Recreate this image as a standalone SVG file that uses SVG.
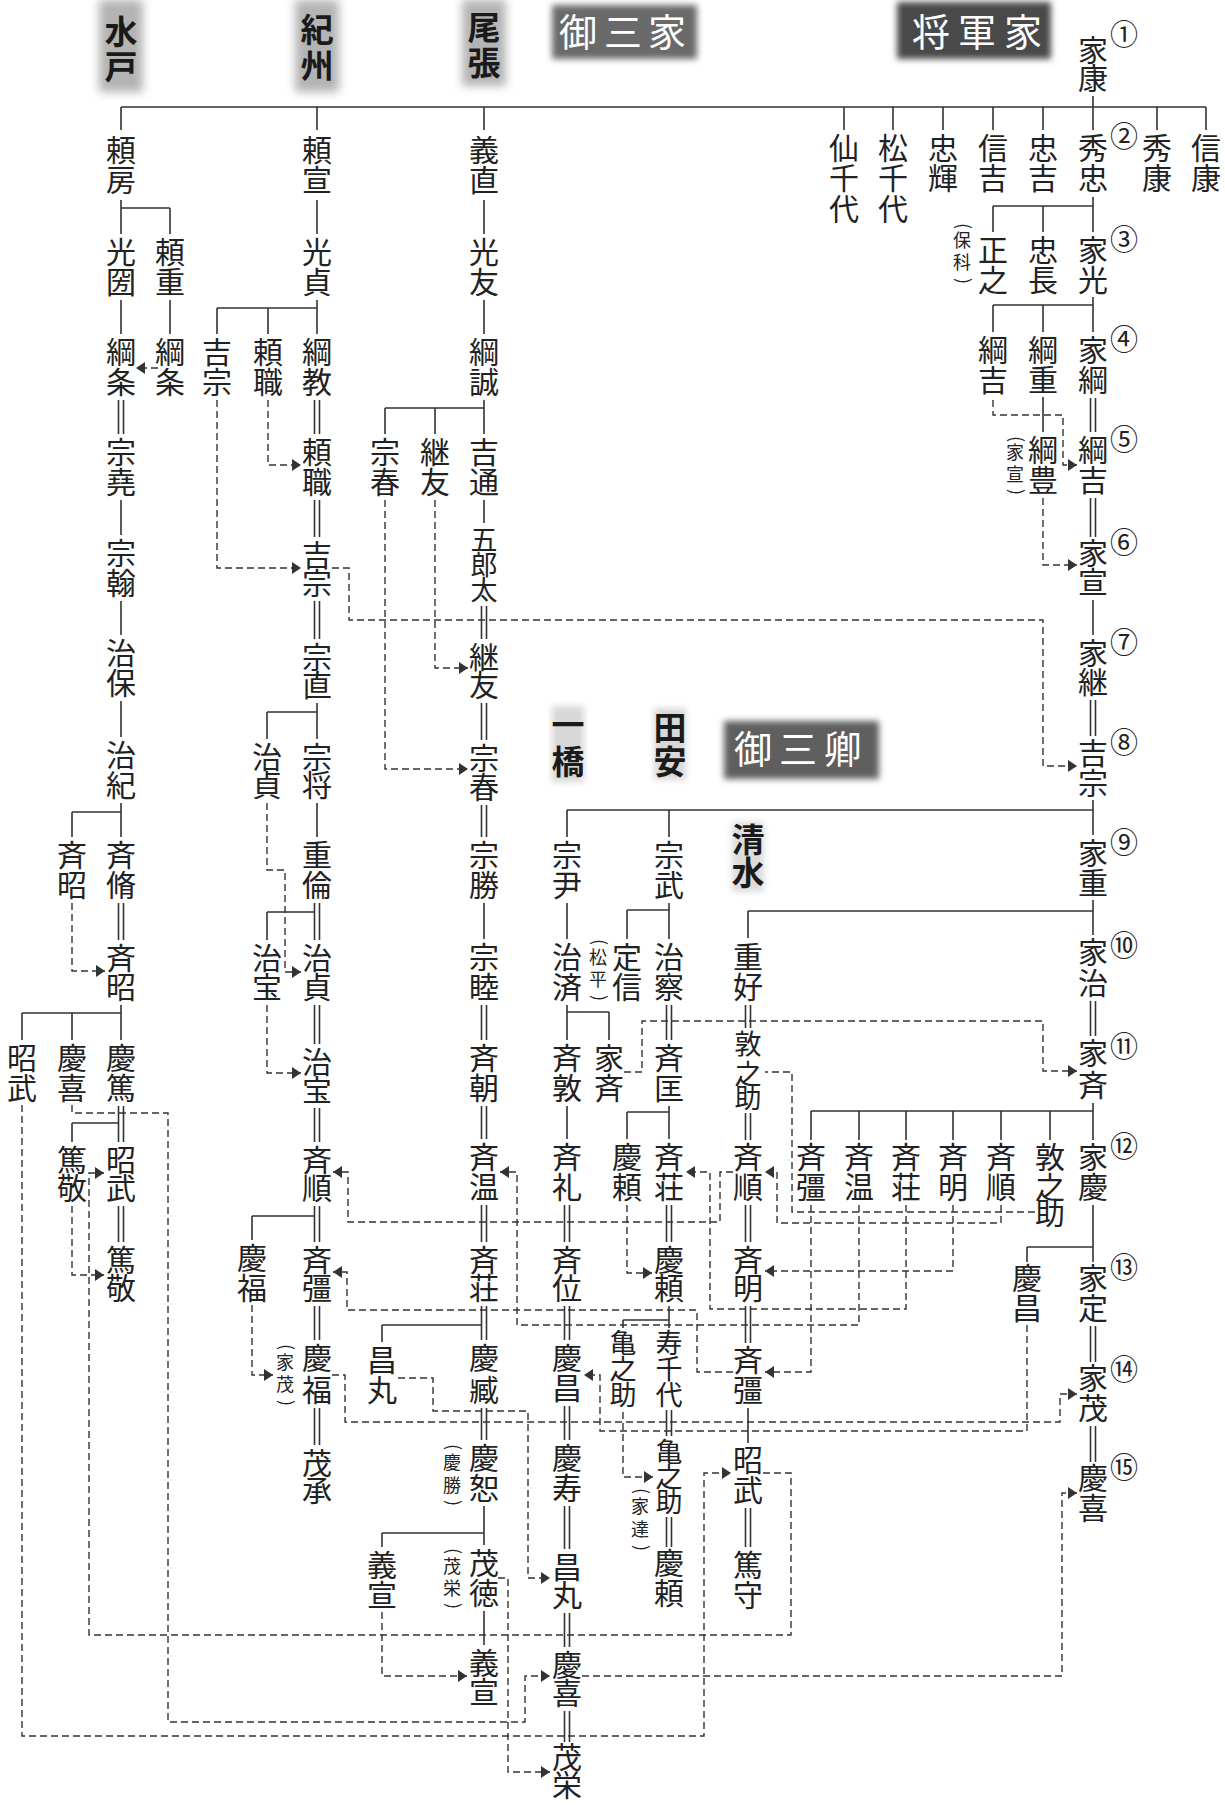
<svg xmlns="http://www.w3.org/2000/svg" width="1225" height="1805" viewBox="0 0 1225 1805">
<defs>
<style>
text{font-family:"Noto Sans CJK JP","Noto Sans CJK SC",sans-serif;text-anchor:middle;fill:#222}
.n{font-size:30px}
.n3{font-size:27px}
.sm{font-size:18px}
.c{font-size:28px}
.hd{font-size:33px;font-weight:700;fill:#1a1a1a}
.wh{font-size:38px;fill:#fff;font-weight:400}
.s{stroke:#333;stroke-width:1.6;fill:none}
.d{stroke:#333;stroke-width:1.4;fill:none;stroke-dasharray:7 4}
.a{marker-end:url(#arr)}
</style>
<marker id="arr" markerUnits="userSpaceOnUse" markerWidth="10" markerHeight="12" refX="9" refY="6" orient="auto"><path d="M0,0 L9,6 L0,12 Z" fill="#333"/></marker>
<filter id="bl" x="-40%" y="-40%" width="180%" height="180%"><feGaussianBlur stdDeviation="5"/></filter>
<filter id="bl2" x="-40%" y="-40%" width="180%" height="180%"><feGaussianBlur stdDeviation="3"/></filter>
</defs>
<rect width="1225" height="1805" fill="#fff"/>

<g id="headers">
<g id="hd-mito"><rect x="99" y="0" width="44" height="92" fill="#b4b4b4" filter="url(#bl)"/><text class="hd" x="121 121" y="44 79">水戸</text></g>
<g id="hd-kishu"><rect x="295" y="0" width="44" height="92" fill="#b4b4b4" filter="url(#bl)"/><text class="hd" x="317 317" y="42 78">紀州</text></g>
<g id="hd-owari"><rect x="462" y="0" width="44" height="86" fill="#b4b4b4" filter="url(#bl)"/><text class="hd" x="484 484" y="40 75">尾張</text></g>
<g id="hd-gosanke"><rect x="552" y="5" width="145" height="54" fill="#6a6a6a" filter="url(#bl2)"/><text class="wh" x="578 623 667" y="46 46 46">御三家</text></g>
<g id="hd-shogun"><rect x="897" y="2" width="154" height="57" fill="#4a4a4a" filter="url(#bl2)"/><text class="wh" x="931 977 1023" y="46 46 46">将軍家</text></g>
<g id="hd-gosankyo"><rect x="724" y="721" width="155" height="58" fill="#5e5e5e" filter="url(#bl2)"/><text class="wh" x="753 798 843" y="763 763 763">御三卿</text></g>
<g id="hd-hitotsubashi"><rect x="552" y="706" width="32" height="76" fill="#d8d8d8" filter="url(#bl2)"/><text class="hd" x="568 568" y="737 774">一橋</text></g>
<g id="hd-tayasu"><rect x="654" y="708" width="32" height="72" fill="#d8d8d8" filter="url(#bl2)"/><text class="hd" x="670 670" y="740 774">田安</text></g>
<g id="hd-shimizu"><rect x="732" y="822" width="32" height="70" fill="#dcdcdc" filter="url(#bl2)"/><text class="hd" x="748 748" y="852 885">清水</text></g>
</g>

<g id="connectors">
<path class="s" d="M121,107 H1206 M121,107 V130 M317,107 V130 M484,107 V130 M844,107 V130 M893,107 V130 M943,107 V130 M993,107 V130 M1043,107 V130 M1157,107 V130 M1206,107 V130 M1093,96 V130"/>
<path class="s" d="M1093,197 V232 M993,206 H1093 M993,206 V232 M1043,206 V232 M1093,297 V332 M993,305 H1093 M993,305 V332 M1043,305 V332 M1043,397 V432 M1093,600 V635 M1093,800 V835 M567,810 H1093 M567,810 V837 M669,810 V837 M1093,900 V935 M748,911 H1093 M748,911 V938 M1093,1103 V1140 M811,1111 H1093 M811,1111 V1140 M859,1111 V1140 M906,1111 V1140 M953,1111 V1140 M1001,1111 V1140 M1050,1111 V1140 M1093,1205 V1262 M1027,1247 H1093 M1027,1247 V1262"/>
<path class="s" d="M1090.5,398 V432 M1095.5,398 V432 M1090.5,498 V537 M1095.5,498 V537 M1090.5,700 V736 M1095.5,700 V736 M1090.5,1001 V1036 M1095.5,1001 V1036 M1090.5,1326 V1362 M1095.5,1326 V1362 M1090.5,1426 V1462 M1095.5,1426 V1462"/>
<path class="s" d="M121,200 V234 M121,208 H170 M170,208 V234 M121,300 V334 M170,300 V334 M118.5,400 V434 M123.5,400 V434 M121,500 V535 M121,601 V635 M121,701 V737 M121,803 V837 M72,812 H121 M72,812 V837 M118.5,903 V940 M123.5,903 V940 M121,1005 V1040 M22,1013 H121 M22,1013 V1040 M72,1013 V1040 M118.5,1106 V1142 M123.5,1106 V1142 M72,1123 H118.5 M72,1123 V1142 M118.5,1206 V1242 M123.5,1206 V1242"/>
<path class="s" d="M317,200 V234 M317,300 V334 M217,308 H317 M217,308 V334 M268,308 V334 M314.5,400 V434 M319.5,400 V434 M314.5,500 V537 M319.5,500 V537 M314.5,601 V639 M319.5,601 V639 M317,703 V739 M267,712 H317 M267,712 V739 M317,803 V837 M314.5,903 V940 M319.5,903 V940 M267,912 H314.5 M267,912 V940 M314.5,1005 V1044 M319.5,1005 V1044 M314.5,1108 V1142 M319.5,1108 V1142 M314.5,1206 V1242 M319.5,1206 V1242 M252,1216 H314.5 M252,1216 V1240 M314.5,1306 V1340 M319.5,1306 V1340 M314.5,1408 V1445 M319.5,1408 V1445"/>
<path class="s" d="M484,200 V234 M484,300 V334 M484,400 V434 M385,408 H484 M385,408 V434 M435,408 V434 M484,500 V523 M481.5,606 V639 M486.5,606 V639 M481.5,703 V740 M486.5,703 V740 M481.5,805 V837 M486.5,805 V837 M484,903 V939 M481.5,1005 V1040 M486.5,1005 V1040 M481.5,1106 V1139 M486.5,1106 V1139 M481.5,1205 V1242 M486.5,1205 V1242 M481.5,1306 V1340 M486.5,1306 V1340 M382,1325 H481.5 M382,1325 V1342 M481.5,1408 V1440 M486.5,1408 V1440 M484,1506 V1545 M382,1533 H484 M382,1533 V1547 M484,1611 V1645"/>
<path class="s" d="M567,903 V939 M567,1005 V1040 M567,1012 H609 M609,1012 V1040 M567,1106 V1139 M564.5,1205 V1242 M569.5,1205 V1242 M564.5,1306 V1340 M569.5,1306 V1340 M564.5,1406 V1440 M569.5,1406 V1440 M564.5,1506 V1549 M569.5,1506 V1549 M564.5,1613 V1647 M569.5,1613 V1647 M564.5,1711 V1742 M569.5,1711 V1742"/>
<path class="s" d="M669,903 V939 M627,910 H669 M627,910 V939 M666.5,1005 V1040 M671.5,1005 V1040 M669,1106 V1139 M627,1112 H669 M627,1112 V1139 M666.5,1205 V1242 M671.5,1205 V1242 M669,1306 V1328 M623,1320 H669 M623,1320 V1328 M666.5,1410 V1436 M671.5,1410 V1436 M666.5,1517 V1547 M671.5,1517 V1547"/>
<path class="s" d="M745.5,1005 V1028 M750.5,1005 V1028 M745.5,1113 V1140 M750.5,1113 V1140 M745.5,1205 V1242 M750.5,1205 V1242 M745.5,1306 V1343 M750.5,1306 V1343 M748,1408 V1443 M745.5,1508 V1547 M750.5,1508 V1547"/>

<path class="d a" d="M158,368 H136"/>
<path class="d a" d="M268,400 V465 H301"/>
<path class="d a" d="M217,400 V568 H301"/>
<path class="d a" d="M332,568 H349 V620 H1043 V766 H1077"/>
<path class="d a" d="M993,400 V415 H1063 V465 H1077"/>
<path class="d a" d="M1043,498 V565 H1077"/>
<path class="d a" d="M435,500 V668 H468"/>
<path class="d a" d="M385,500 V769 H468"/>
<path class="d a" d="M72,903 V971 H105"/>
<path class="d a" d="M267,803 V870 H285 V972 H301"/>
<path class="d a" d="M267,1005 V1073 H301"/>
<path class="d a" d="M624,1072 H642 V1021 H1043 V1071 H1077"/>
<path class="d a" d="M1001,1205 V1223 H777 V1172 H765"/>
<path class="d a" d="M733,1172 H720 V1222 H348 V1172 H333"/>
<path class="d a" d="M811,1205 V1372 H765"/>
<path class="d a" d="M733,1372 H697 V1310 H347 V1272 H333"/>
<path class="d a" d="M859,1205 V1325 H517 V1172 H500"/>
<path class="d a" d="M906,1205 V1309 H710 V1172 H686"/>
<path class="d a" d="M953,1205 V1271 H765"/>
<path class="d" d="M1035,1212 H792 V1072 H765"/>
<path class="d a" d="M627,1205 V1273 H652"/>
<path class="d a" d="M252,1305 V1375 H273"/>
<path class="d a" d="M332,1375 H345 V1422 H1060 V1394 H1077"/>
<path class="d a" d="M1027,1325 V1431 H600 V1375 H584"/>
<path class="d a" d="M398,1378 H433 V1411 H528 V1578 H550"/>
<path class="d a" d="M623,1412 V1477 H653"/>
<path class="d a" d="M72,1105 V1113 H168 V1722 H525 V1676 H550"/>
<path class="d a" d="M582,1676 H1062 V1493 H1077"/>
<path class="d a" d="M22,1105 V1736 H704 V1473 H731"/>
<path class="d a" d="M763,1473 H791 V1635 H89 V1173 H104"/>
<path class="d a" d="M72,1206 V1275 H104"/>
<path class="d a" d="M382,1612 V1676 H467"/>
<path class="d a" d="M498,1578 H508 V1772 H550"/>
</g>

<g id="shogun">
<g id="s01"><text class="n" x="1093 1093" y="61 89">家康</text><text class="c" x="1124" y="45">①</text></g>
<g id="s02"><text class="n" x="1093 1093" y="159 189">秀忠</text><text class="c" x="1124" y="147">②</text></g>
<g id="s-senchiyo"><text class="n" x="844 844 844" y="159 189 220">仙千代</text></g>
<g id="s-matsuchiyo"><text class="n" x="893 893 893" y="159 189 220">松千代</text></g>
<g id="s-tadateru"><text class="n" x="943 943" y="159 189">忠輝</text></g>
<g id="s-nobuyoshi"><text class="n" x="993 993" y="159 189">信吉</text></g>
<g id="s-tadayoshi"><text class="n" x="1043 1043" y="159 189">忠吉</text></g>
<g id="s-hideyasu"><text class="n" x="1157 1157" y="159 189">秀康</text></g>
<g id="s-nobuyasu"><text class="n" x="1206 1206" y="159 189">信康</text></g>
<g id="s03"><text class="n" x="1093 1093" y="261 291">家光</text><text class="c" x="1124" y="250">③</text></g>
<g id="s-masayuki"><text class="n" x="993 993" y="261 291">正之</text><text class="sm" x="962 962" y="247 269">保科</text><text class="sm" transform="rotate(90 962 226)" x="962" y="231">(</text><text class="sm" transform="rotate(90 962 281)" x="962" y="286">)</text></g>
<g id="s-tadanaga"><text class="n" x="1043 1043" y="261 291">忠長</text></g>
<g id="s04"><text class="n" x="1093 1093" y="361 391">家綱</text><text class="c" x="1124" y="350">④</text></g>
<g id="s-tsunayoshi-a"><text class="n" x="993 993" y="361 391">綱吉</text></g>
<g id="s-tsunashige"><text class="n" x="1043 1043" y="361 391">綱重</text></g>
<g id="s05"><text class="n" x="1093 1093" y="461 491">綱吉</text><text class="c" x="1124" y="450">⑤</text></g>
<g id="s-tsunatoyo"><text class="n" x="1043 1043" y="461 491">綱豊</text><text class="sm" x="1015 1015" y="459 481">家宣</text><text class="sm" transform="rotate(90 1015 439)" x="1015" y="444">(</text><text class="sm" transform="rotate(90 1015 492)" x="1015" y="497">)</text></g>
<g id="s06"><text class="n" x="1093 1093" y="564 593">家宣</text><text class="c" x="1124" y="553">⑥</text></g>
<g id="s07"><text class="n" x="1093 1093" y="664 693">家継</text><text class="c" x="1124" y="653">⑦</text></g>
<g id="s08"><text class="n" x="1093 1093" y="764 794">吉宗</text><text class="c" x="1124" y="753">⑧</text></g>
<g id="s09"><text class="n" x="1093 1093" y="864 894">家重</text><text class="c" x="1124" y="853">⑨</text></g>
<g id="s10"><text class="n" x="1093 1093" y="963 994">家治</text><text class="c" x="1124" y="956">⑩</text></g>
<g id="s11"><text class="n" x="1093 1093" y="1064 1096">家斉</text><text class="c" x="1124" y="1057">⑪</text></g>
<g id="s12"><text class="n" x="1093 1093" y="1168 1198">家慶</text><text class="c" x="1124" y="1157">⑫</text></g>
<g id="s-narikatsu"><text class="n" x="811 811" y="1168 1198">斉彊</text></g>
<g id="s-naoharu"><text class="n" x="859 859" y="1168 1198">斉温</text></g>
<g id="s-naritaka"><text class="n" x="906 906" y="1168 1198">斉荘</text></g>
<g id="s-nariaki"><text class="n" x="953 953" y="1168 1198">斉明</text></g>
<g id="s-nariyuki"><text class="n" x="1001 1001" y="1168 1198">斉順</text></g>
<g id="s-atsunosuke"><text class="n" x="1050 1050 1050" y="1168 1198 1224">敦之助</text></g>
<g id="s13"><text class="n" x="1093 1093" y="1289 1319">家定</text><text class="c" x="1124" y="1278">⑬</text></g>
<g id="s-yoshimasa"><text class="n" x="1027 1027" y="1289 1319">慶昌</text></g>
<g id="s14"><text class="n" x="1093 1093" y="1389 1419">家茂</text><text class="c" x="1124" y="1380">⑭</text></g>
<g id="s15"><text class="n" x="1093 1093" y="1489 1519">慶喜</text><text class="c" x="1124" y="1478">⑮</text></g>
</g>

<g id="mito">
<g id="m-yorifusa"><text class="n" x="121 121" y="161 191">頼房</text></g>
<g id="m-mitsukuni"><text class="n" x="121 121" y="263 293">光圀</text></g>
<g id="m-yorishige"><text class="n" x="170 170" y="263 293">頼重</text></g>
<g id="m-tsunaeda"><text class="n" x="121 121" y="363 393">綱条</text></g>
<g id="m-tsunaeda-b"><text class="n" x="170 170" y="363 393">綱条</text></g>
<g id="m-munetaka"><text class="n" x="121 121" y="463 493">宗堯</text></g>
<g id="m-munemoto"><text class="n" x="121 121" y="564 594">宗翰</text></g>
<g id="m-harumori"><text class="n" x="121 121" y="664 694">治保</text></g>
<g id="m-harutoshi"><text class="n" x="121 121" y="766 796">治紀</text></g>
<g id="m-narinobu"><text class="n" x="121 121" y="866 896">斉脩</text></g>
<g id="m-nariaki-b"><text class="n" x="72 72" y="866 896">斉昭</text></g>
<g id="m-nariaki"><text class="n" x="121 121" y="969 998">斉昭</text></g>
<g id="m-yoshiatsu"><text class="n" x="121 121" y="1069 1099">慶篤</text></g>
<g id="m-yoshinobu-b"><text class="n" x="72 72" y="1069 1099">慶喜</text></g>
<g id="m-akitake-b"><text class="n" x="22 22" y="1069 1099">昭武</text></g>
<g id="m-akitake"><text class="n" x="121 121" y="1171 1199">昭武</text></g>
<g id="m-atsuyoshi-b"><text class="n" x="72 72" y="1171 1199">篤敬</text></g>
<g id="m-atsuyoshi"><text class="n" x="121 121" y="1271 1299">篤敬</text></g>
</g>

<g id="kishu">
<g id="k-yorinobu"><text class="n" x="317 317" y="161 191">頼宣</text></g>
<g id="k-mitsusada"><text class="n" x="317 317" y="263 293">光貞</text></g>
<g id="k-tsunanori"><text class="n" x="317 317" y="363 393">綱教</text></g>
<g id="k-yorimoto-b"><text class="n" x="268 268" y="363 393">頼職</text></g>
<g id="k-yoshimune-b"><text class="n" x="217 217" y="363 393">吉宗</text></g>
<g id="k-yorimoto"><text class="n" x="317 317" y="463 493">頼職</text></g>
<g id="k-yoshimune"><text class="n" x="317 317" y="566 594">吉宗</text></g>
<g id="k-munenao"><text class="n" x="317 317" y="668 696">宗直</text></g>
<g id="k-munenobu"><text class="n" x="317 317" y="768 796">宗将</text></g>
<g id="k-harusada-b"><text class="n" x="267 267" y="768 796">治貞</text></g>
<g id="k-shigenori"><text class="n" x="317 317" y="866 896">重倫</text></g>
<g id="k-harusada"><text class="n" x="317 317" y="969 998">治貞</text></g>
<g id="k-harutomi-b"><text class="n" x="267 267" y="969 998">治宝</text></g>
<g id="k-harutomi"><text class="n" x="317 317" y="1073 1101">治宝</text></g>
<g id="k-nariyuki"><text class="n" x="317 317" y="1171 1199">斉順</text></g>
<g id="k-narikatsu"><text class="n" x="317 317" y="1271 1299">斉彊</text></g>
<g id="k-yoshitomi-b"><text class="n" x="252 252" y="1269 1299">慶福</text></g>
<g id="k-yoshitomi"><text class="n" x="317 317" y="1369 1401">慶福</text><text class="sm" x="285 285" y="1369 1391">家茂</text><text class="sm" transform="rotate(90 285 1347)" x="285" y="1352">(</text><text class="sm" transform="rotate(90 285 1403)" x="285" y="1408">)</text></g>
<g id="k-mochitsugu"><text class="n" x="317 317" y="1474 1501">茂承</text></g>
</g>

<g id="owari">
<g id="o-yoshinao"><text class="n" x="484 484" y="161 191">義直</text></g>
<g id="o-mitsutomo"><text class="n" x="484 484" y="263 293">光友</text></g>
<g id="o-tsunanari"><text class="n" x="484 484" y="363 393">綱誠</text></g>
<g id="o-yoshimichi"><text class="n" x="484 484" y="463 493">吉通</text></g>
<g id="o-tsugutomo-b"><text class="n" x="435 435" y="463 493">継友</text></g>
<g id="o-muneharu-b"><text class="n" x="385 385" y="463 493">宗春</text></g>
<g id="o-gorota"><text class="n3" x="484 484 484" y="550 575 600">五郎太</text></g>
<g id="o-tsugutomo"><text class="n" x="484 484" y="668 696">継友</text></g>
<g id="o-muneharu"><text class="n" x="484 484" y="769 798">宗春</text></g>
<g id="o-munekatsu"><text class="n" x="484 484" y="866 896">宗勝</text></g>
<g id="o-munechika"><text class="n" x="484 484" y="968 998">宗睦</text></g>
<g id="o-naritomo"><text class="n" x="484 484" y="1069 1099">斉朝</text></g>
<g id="o-naoharu"><text class="n" x="484 484" y="1168 1198">斉温</text></g>
<g id="o-naritaka"><text class="n" x="484 484" y="1271 1299">斉荘</text></g>
<g id="o-yoshitsugu"><text class="n" x="484 484" y="1369 1401">慶臧</text></g>
<g id="o-masamaru-b"><text class="n" x="382 382" y="1371 1401">昌丸</text></g>
<g id="o-yoshikumi"><text class="n" x="484 484" y="1469 1499">慶恕</text><text class="sm" x="452 452" y="1469 1492">慶勝</text><text class="sm" transform="rotate(90 452 1447)" x="452" y="1452">(</text><text class="sm" transform="rotate(90 452 1503)" x="452" y="1508">)</text></g>
<g id="o-mochinaga"><text class="n" x="484 484" y="1574 1604">茂徳</text><text class="sm" x="452 452" y="1573 1595">茂栄</text><text class="sm" transform="rotate(90 452 1551)" x="452" y="1556">(</text><text class="sm" transform="rotate(90 452 1606)" x="452" y="1611">)</text></g>
<g id="o-yoshinori-b"><text class="n" x="382 382" y="1576 1606">義宣</text></g>
<g id="o-yoshinori"><text class="n" x="484 484" y="1674 1703">義宣</text></g>
</g>

<g id="hitotsubashi">
<g id="h-munetada"><text class="n" x="567 567" y="866 896">宗尹</text></g>
<g id="h-harusada"><text class="n" x="567 567" y="968 998">治済</text></g>
<g id="h-nariatsu"><text class="n" x="567 567" y="1069 1099">斉敦</text></g>
<g id="h-ienari-b"><text class="n" x="609 609" y="1069 1099">家斉</text></g>
<g id="h-narinori"><text class="n" x="567 567" y="1168 1198">斉礼</text></g>
<g id="h-narikura"><text class="n" x="567 567" y="1271 1299">斉位</text></g>
<g id="h-yoshimasa"><text class="n" x="567 567" y="1369 1399">慶昌</text></g>
<g id="h-yoshinaga"><text class="n" x="567 567" y="1469 1499">慶寿</text></g>
<g id="h-masamaru"><text class="n" x="567 567" y="1578 1606">昌丸</text></g>
<g id="h-yoshinobu"><text class="n" x="567 567" y="1676 1704">慶喜</text></g>
<g id="h-mochiharu"><text class="n" x="567 567" y="1768 1796">茂栄</text></g>
</g>

<g id="tayasu">
<g id="t-munetake"><text class="n" x="669 669" y="866 896">宗武</text></g>
<g id="t-haruaki"><text class="n" x="669 669" y="968 998">治察</text></g>
<g id="t-sadanobu"><text class="n" x="627 627" y="968 998">定信</text><text class="sm" x="598 598" y="964 986">松平</text><text class="sm" transform="rotate(90 598 942)" x="598" y="947">(</text><text class="sm" transform="rotate(90 598 998)" x="598" y="1003">)</text></g>
<g id="t-narimasa"><text class="n" x="669 669" y="1069 1099">斉匡</text></g>
<g id="t-naritaka"><text class="n" x="669 669" y="1168 1198">斉荘</text></g>
<g id="t-yoshiyori-b"><text class="n" x="627 627" y="1168 1198">慶頼</text></g>
<g id="t-yoshiyori"><text class="n" x="669 669" y="1271 1299">慶頼</text></g>
<g id="t-jusenyo"><text class="n3" x="669 669 669" y="1353 1379 1405">寿千代</text></g>
<g id="t-kamenosuke-b"><text class="n3" x="623 623 623" y="1353 1379 1405">亀之助</text></g>
<g id="t-kamenosuke"><text class="n3" x="669 669 669" y="1462 1487 1512">亀之助</text><text class="sm" x="640 640" y="1513 1536">家達</text><text class="sm" transform="rotate(90 640 1491)" x="640" y="1496">(</text><text class="sm" transform="rotate(90 640 1548)" x="640" y="1553">)</text></g>
<g id="t-yoshiyori-2"><text class="n" x="669 669" y="1574 1604">慶頼</text></g>
</g>

<g id="shimizu">
<g id="c-shigeyoshi"><text class="n" x="748 748" y="968 998">重好</text></g>
<g id="c-atsunosuke"><text class="n3" x="748 748 748" y="1054 1084 1108">敦之助</text></g>
<g id="c-nariyuki"><text class="n" x="748 748" y="1168 1198">斉順</text></g>
<g id="c-nariaki"><text class="n" x="748 748" y="1271 1299">斉明</text></g>
<g id="c-narikatsu"><text class="n" x="748 748" y="1371 1401">斉彊</text></g>
<g id="c-akitake"><text class="n" x="748 748" y="1471 1501">昭武</text></g>
<g id="c-atsumori"><text class="n" x="748 748" y="1576 1606">篤守</text></g>
</g>
</svg>
